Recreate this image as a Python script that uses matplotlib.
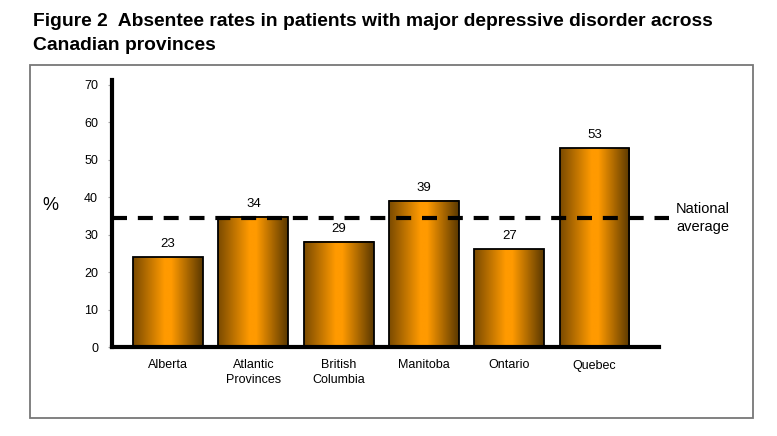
import numpy as np
import matplotlib
matplotlib.use('Agg')
import matplotlib.pyplot as plt
from matplotlib.colors import LinearSegmentedColormap
from matplotlib.patches import Rectangle

# Data
provinces = ['Alberta', 'Atlantic\nProvinces', 'British\nColumbia', 'Manitoba', 'Ontario', 'Quebec']
rates = [24.0, 34.8, 28.1, 39.1, 26.1, 53.1]
rate_labels = ['23', '34', '29', '39', '27', '53']
national_avg = 34.5
yticks = [0, 10, 20, 30, 40, 50, 60, 70]

plt.rcParams['font.family'] = ['Liberation Sans', 'DejaVu Sans']

fig = plt.figure(figsize=(7.77, 4.36), dpi=100)
W, H = 777, 436

# outer frame
fig.add_artist(Rectangle((30 / W, 1 - 418 / H), (753 - 30) / W, (418 - 65) / H,
                         transform=fig.transFigure, fill=False,
                         edgecolor='#777777', lw=1.3))

# title
fig.text(33 / W, 1 - 22 / H, 'Figure 2  Absentee rates in patients with major depressive disorder across',
         ha='left', va='center', fontsize=13.9, fontweight='bold')
fig.text(33 / W, 1 - 45 / H, 'Canadian provinces',
         ha='left', va='center', fontsize=13.9, fontweight='bold')

ax = fig.add_axes([112 / W, 1 - 347 / H, (659 - 112) / W, (347 - 80) / H])

x = np.arange(len(provinces))
width = 0.82

# gradient fill for the bars: dark edges, orange middle
cmap = LinearSegmentedColormap.from_list(
    'barshade', [(0.0, '#7a4a00'), (0.45, '#ff9a00'), (0.55, '#ff9a00'), (1.0, '#5a3800')])
grad = np.linspace(0, 1, 256).reshape(1, -1)
for xi, h in zip(x, rates):
    ax.imshow(grad, extent=[xi - width / 2, xi + width / 2, 0, h],
              aspect='auto', cmap=cmap, zorder=2, interpolation='bilinear')
ax.bar(x, rates, width=width, fill=False, edgecolor='black', lw=1.3, zorder=3)

for xi, h, lab in zip(x, rates, rate_labels):
    ax.annotate(lab, (xi, h), xytext=(0, 5), textcoords='offset points',
                ha='center', va='bottom', fontsize=9.5)

# national average dashed line (runs a bit past the axis)
ax.plot([-0.657, 5.873], [national_avg, national_avg], color='black', lw=3,
        dashes=(3.6, 2.6), clip_on=False, zorder=4)
fig.text(676 / W, 1 - 218 / H, 'National\naverage', ha='left', va='center',
         fontsize=10.5, linespacing=1.3)

ax.set_xlim(-0.657, 5.756)
ax.set_ylim(0, 71.3)
ax.set_yticks(yticks)
ax.set_xticks(x)
ax.set_xticklabels(provinces, fontsize=9, linespacing=1.25)
ax.tick_params(axis='x', length=0, pad=9)
ax.tick_params(axis='y', length=3, width=0.8, color='#aaaaaa', labelsize=9, pad=7)

for s in ['top', 'right']:
    ax.spines[s].set_visible(False)
for s in ['left', 'bottom']:
    ax.spines[s].set_linewidth(3)

fig.text(50 / W, 1 - 205 / H, '%', ha='center', va='center', fontsize=13)

fig.savefig('out.png', dpi=100)
